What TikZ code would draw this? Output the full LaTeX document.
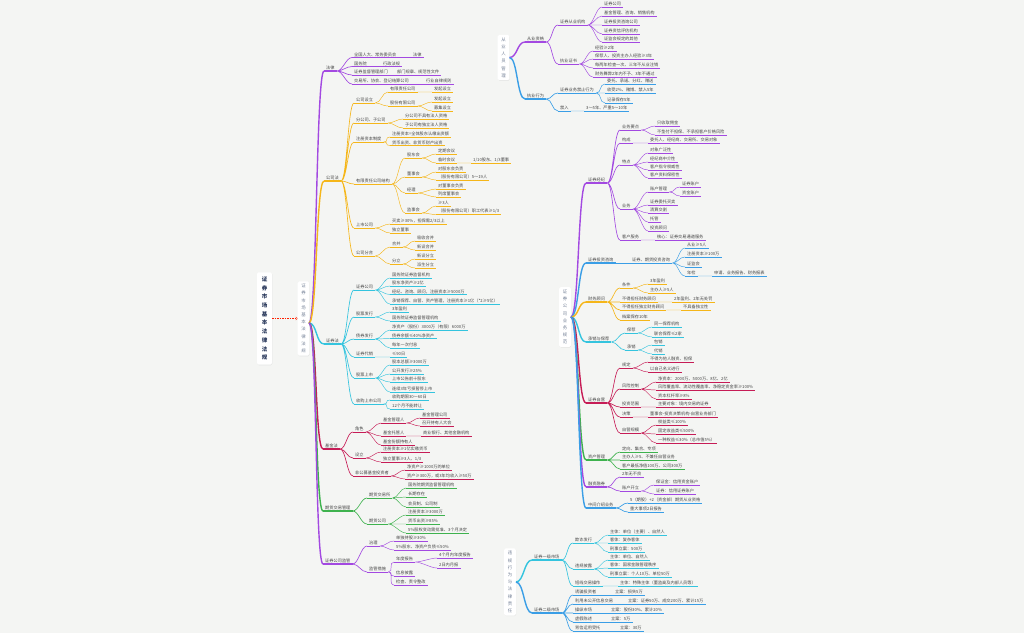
\documentclass[tikz,border=0pt]{standalone}
\usepackage{fontspec}
\setmainfont{Noto Sans CJK SC}
\usetikzlibrary{shadows}

\definecolor{cPu}{RGB}{163,73,225}
\definecolor{cYe}{RGB}{245,182,25}
\definecolor{cCy}{RGB}{52,196,222}
\definecolor{cCr}{RGB}{198,28,86}
\definecolor{cGr}{RGB}{62,178,78}
\definecolor{cBl}{RGB}{58,158,230}
\definecolor{txt}{RGB}{70,70,70}
\definecolor{bg}{RGB}{244,245,243}
\definecolor{navy}{RGB}{40,55,90}
\definecolor{boxtxt}{RGB}{115,128,150}

\newcommand{\leaffont}{\fontsize{4.2}{5}\selectfont}

\tikzset{
  base/.style={anchor=south west, inner xsep=2pt, inner ysep=.7pt, font=\leaffont, text=txt},
  l1/.style={base, append after command={(\tikzlastnode.south west) edge[draw=#1, line width=1.2pt] (\tikzlastnode.south east)}},
  l2/.style={base, append after command={(\tikzlastnode.south west) edge[draw=#1, line width=.65pt] (\tikzlastnode.south east)}},
  l3/.style={base, append after command={(\tikzlastnode.south west) edge[draw=#1, line width=.45pt] (\tikzlastnode.south east)}},
  t1/.style={line width=1.4pt},
  t2/.style={line width=.65pt},
  t3/.style={line width=.45pt},
  cv/.style={to path={.. controls +(#1,0) and +(-#1,0) .. (\tikztotarget)}},
  cv/.default=6,
  rootbox/.style={fill=white, rounded corners=1.5pt, align=center, inner xsep=4.6pt, inner ysep=4.5pt,
    font=\fontsize{5.5}{8.7}\selectfont\bfseries, text=navy,
    drop shadow={shadow xshift=.4pt, shadow yshift=-.6pt, opacity=.12}},
  topbox/.style={fill=white, rounded corners=1.5pt, align=center, inner xsep=3.6pt, inner ysep=2.8pt,
    font=\fontsize{4.4}{7.2}\selectfont, text=boxtxt,
    drop shadow={shadow xshift=.4pt, shadow yshift=-.6pt, opacity=.12}}
}

\begin{document}
\begin{tikzpicture}[x=1pt,y=-1pt]
    \fill[bg] (0,0) rectangle (1024,633);
    \useasboundingbox (0,0) rectangle (1024,633);

    % Thèmes
    \node[rootbox] (rt) at (264.5,318.5) {证\\券\\市\\场\\基\\本\\法\\律\\法\\规};
    \node[topbox] (ct) at (303.5,318.5) {证\\券\\市\\场\\基\\本\\法\\律\\法\\规};
    \draw[red!75!orange, line width=.4pt, dash pattern=on 1.5pt off 1pt, ->] (rt) -- (ct);
    \coordinate (ctO) at (309,323);
    \node[topbox] (ry) at (503.5,57.5) {从\\业\\人\\员\\管\\理};
    \node[topbox] (yw) at (565,317) {证\\券\\公\\司\\业\\务\\规\\范};
    \node[topbox] (wg) at (510,582) {违\\规\\行\\为\\与\\法\\律\\责\\任};

    % 法律
    \node[l1=cPu] (fa) at (324,71) {法律};
    \node[l2=cPu] (fa1) at (352,57.5) {全国人大、常务委员会};
    \node[l3=cPu] (fa1a) at (411,57.5) {法律};
    \node[l2=cPu] (fa2) at (352,66.5) {国务院};
    \node[l3=cPu] (fa2a) at (381,66.5) {行政法规};
    \node[l2=cPu] (fa3) at (352,75) {证券监督管理部门};
    \node[l3=cPu] (fa3a) at (395,75) {部门规章、规范性文件};
    \node[l2=cPu] (fa4) at (352,84) {交易所、协会、登记结算公司};
    \node[l3=cPu] (fa4a) at (424,84) {行业自律规则};
    \draw[cPu,t1] (ctO) to[cv=8] (fa.south west);
    \draw[cPu,t2] (fa.south east) to[cv] (fa1.south west) (fa.south east) to[cv] (fa2.south west)
        (fa.south east) to[cv] (fa3.south west) (fa.south east) to[cv] (fa4.south west);
    \draw[cPu,t3] (fa1.south east) -- (fa1a.south west) (fa2.south east) -- (fa2a.south west)
        (fa3.south east) -- (fa3a.south west) (fa4.south east) -- (fa4a.south west);

    % 公司法
    \node[l1=cYe] (gs) at (324,181) {公司法};
    \node[l2=cYe] (gs1) at (354,103) {公司设立};
    \node[l3=cYe] (gs11) at (388,92) {有限责任公司};
    \node[l3=cYe] (gs111) at (432,92) {发起设立};
    \node[l3=cYe] (gs12) at (388,106) {股份有限公司};
    \node[l3=cYe] (gs121) at (432,102) {发起设立};
    \node[l3=cYe] (gs122) at (432,111) {募集设立};
    \node[l2=cYe] (gs2) at (354,123) {分公司、子公司};
    \node[l3=cYe] (gs21) at (403,119) {分公司不具有法人资格};
    \node[l3=cYe] (gs22) at (403,128) {子公司有独立法人资格};
    \node[l2=cYe] (gs3) at (354,142) {注册资本制度};
    \node[l3=cYe] (gs31) at (390,137) {注册资本=全体股东认缴出资额};
    \node[l3=cYe] (gs32) at (390,145.5) {货币出资、非货币财产出资};
    \node[l2=cYe] (gs4) at (354,184) {有限责任公司结构};
    \node[l3=cYe] (gs41) at (405,158) {股东会};
    \node[l3=cYe] (gs411) at (436,154) {定期会议};
    \node[l3=cYe] (gs412) at (436,163) {临时会议};
    \node[l3=cYe] (gs4121) at (471,163) {1/10股东、1/3董事};
    \node[l3=cYe] (gs42) at (405,177) {董事会};
    \node[l3=cYe] (gs421) at (436,172) {对股东会负责};
    \node[l3=cYe] (gs422) at (436,180) {（股份有限公司）5～19人};
    \node[l3=cYe] (gs43) at (405,193) {经理};
    \node[l3=cYe] (gs431) at (436,189) {对董事会负责};
    \node[l3=cYe] (gs432) at (436,197) {列席董事会};
    \node[l3=cYe] (gs44) at (405,213) {监事会};
    \node[l3=cYe] (gs441) at (436,206) {≥3人};
    \node[l3=cYe] (gs442) at (436,214.5) {（股份有限公司）职工代表≥1/3};
    \node[l2=cYe] (gs5) at (354,228) {上市公司};
    \node[l3=cYe] (gs51) at (390,224) {买卖≥30\%，担保需2/3以上};
    \node[l3=cYe] (gs52) at (390,233) {独立董事};
    \node[l2=cYe] (gs6) at (354,256) {公司分合};
    \node[l3=cYe] (gs61) at (390,247) {合并};
    \node[l3=cYe] (gs611) at (415,241) {吸收合并};
    \node[l3=cYe] (gs612) at (415,250) {新设合并};
    \node[l3=cYe] (gs62) at (390,264) {分立};
    \node[l3=cYe] (gs621) at (415,259) {新设分立};
    \node[l3=cYe] (gs622) at (415,268) {派生分立};
    \draw[cYe,t1] (ctO) to[cv=8] (gs.south west);
    \draw[cYe,t2] (gs.south east) to[cv] (gs1.south west) (gs.south east) to[cv] (gs2.south west)
        (gs.south east) to[cv] (gs3.south west) (gs.south east) to[cv] (gs4.south west)
        (gs.south east) to[cv] (gs5.south west) (gs.south east) to[cv] (gs6.south west);
    \draw[cYe,t3] (gs1.south east) to[cv] (gs11.south west) (gs1.south east) to[cv] (gs12.south west)
        (gs11.south east) -- (gs111.south west)
        (gs12.south east) to[cv] (gs121.south west) (gs12.south east) to[cv] (gs122.south west)
        (gs2.south east) to[cv] (gs21.south west) (gs2.south east) to[cv] (gs22.south west)
        (gs3.south east) to[cv] (gs31.south west) (gs3.south east) to[cv] (gs32.south west)
        (gs4.south east) to[cv] (gs41.south west) (gs4.south east) to[cv] (gs42.south west)
        (gs4.south east) to[cv] (gs43.south west) (gs4.south east) to[cv] (gs44.south west)
        (gs41.south east) to[cv] (gs411.south west) (gs41.south east) to[cv] (gs412.south west)
        (gs412.south east) -- (gs4121.south west)
        (gs42.south east) to[cv] (gs421.south west) (gs42.south east) to[cv] (gs422.south west)
        (gs43.south east) to[cv] (gs431.south west) (gs43.south east) to[cv] (gs432.south west)
        (gs44.south east) to[cv] (gs441.south west) (gs44.south east) to[cv] (gs442.south west)
        (gs5.south east) to[cv] (gs51.south west) (gs5.south east) to[cv] (gs52.south west)
        (gs6.south east) to[cv] (gs61.south west) (gs6.south east) to[cv] (gs62.south west)
        (gs61.south east) to[cv] (gs611.south west) (gs61.south east) to[cv] (gs612.south west)
        (gs62.south east) to[cv] (gs621.south west) (gs62.south east) to[cv] (gs622.south west);

    % 证券法
    \node[l1=cCy] (zq) at (324,344) {证券法};
    \node[l2=cCy] (zq1) at (354,290) {证券公司};
    \node[l3=cCy] (zq11) at (390,278) {国务院证券监督机构};
    \node[l3=cCy] (zq12) at (390,286) {股东净资产≥2亿};
    \node[l3=cCy] (zq13) at (390,294.5) {经纪、咨询、顾问，注册资本≥5000万};
    \node[l3=cCy] (zq14) at (390,304) {承销保荐、自营、资产管理，注册资本≥1亿（*2≥5亿）};
    \node[l2=cCy] (zq2) at (354,317) {股票发行};
    \node[l3=cCy] (zq21) at (390,312) {3年盈利};
    \node[l3=cCy] (zq22) at (390,321) {国务院证券监督管理机构};
    \node[l2=cCy] (zq3) at (354,339) {债券发行};
    \node[l3=cCy] (zq31) at (390,330) {净资产（股份）3000万（有限）6000万};
    \node[l3=cCy] (zq32) at (390,338.5) {债券余额≤40\%净资产};
    \node[l3=cCy] (zq33) at (390,348) {每年一次付息};
    \node[l2=cCy] (zq4) at (354,357) {证券代销};
    \node[l3=cCy] (zq41) at (390,357) {≤90日};
    \node[l2=cCy] (zq5) at (354,378) {股票上市};
    \node[l3=cCy] (zq51) at (390,365) {股本总额≥3000万};
    \node[l3=cCy] (zq52) at (390,374) {公开发行≥25\%};
    \node[l3=cCy] (zq53) at (390,382) {上市公告前十股东};
    \node[l3=cCy] (zq54) at (390,392) {连续3年亏损暂停上市};
    \node[l2=cCy] (zq6) at (354,404) {收购上市公司};
    \node[l3=cCy] (zq61) at (390,400) {收购期限30～60日};
    \node[l3=cCy] (zq62) at (390,409) {12个月不能转让};
    \draw[cCy,t1] (ctO) to[cv=8] (zq.south west);
    \draw[cCy,t2] (zq.south east) to[cv] (zq1.south west) (zq.south east) to[cv] (zq2.south west)
        (zq.south east) to[cv] (zq3.south west) (zq.south east) to[cv] (zq4.south west)
        (zq.south east) to[cv] (zq5.south west) (zq.south east) to[cv] (zq6.south west);
    \draw[cCy,t3] (zq1.south east) to[cv] (zq11.south west) (zq1.south east) to[cv] (zq12.south west)
        (zq1.south east) to[cv] (zq13.south west) (zq1.south east) to[cv] (zq14.south west)
        (zq2.south east) to[cv] (zq21.south west) (zq2.south east) to[cv] (zq22.south west)
        (zq3.south east) to[cv] (zq31.south west) (zq3.south east) to[cv] (zq32.south west)
        (zq3.south east) to[cv] (zq33.south west) (zq4.south east) -- (zq41.south west)
        (zq5.south east) to[cv] (zq51.south west) (zq5.south east) to[cv] (zq52.south west)
        (zq5.south east) to[cv] (zq53.south west) (zq5.south east) to[cv] (zq54.south west)
        (zq6.south east) to[cv] (zq61.south west) (zq6.south east) to[cv] (zq62.south west);

    % 基金法
    \node[l1=cCr] (jj) at (323,449) {基金法};
    \node[l2=cCr] (jj1) at (353,432) {角色};
    \node[l3=cCr] (jj11) at (381,423) {基金管理人};
    \node[l3=cCr] (jj111) at (420,418) {基金管理公司};
    \node[l3=cCr] (jj112) at (420,426) {召开持有人大会};
    \node[l3=cCr] (jj12) at (381,436) {基金托管人};
    \node[l3=cCr] (jj121) at (421,436) {商业银行、其他金融机构};
    \node[l3=cCr] (jj13) at (381,445) {基金份额持有人};
    \node[l2=cCr] (jj2) at (353,458) {设立};
    \node[l3=cCr] (jj21) at (381,452) {注册资本≥1亿实缴货币};
    \node[l3=cCr] (jj22) at (381,462) {独立董事≥3人、1/3};
    \node[l2=cCr] (jj3) at (353,476) {非公募基金投资者};
    \node[l3=cCr] (jj31) at (405,470) {净资产≥1000万的单位};
    \node[l3=cCr] (jj32) at (405,479) {资产≥300万，或3年均收入≥50万};
    \draw[cCr,t1] (ctO) to[cv=8] (jj.south west);
    \draw[cCr,t2] (jj.south east) to[cv] (jj1.south west) (jj.south east) to[cv] (jj2.south west)
        (jj.south east) to[cv] (jj3.south west);
    \draw[cCr,t3] (jj1.south east) to[cv] (jj11.south west) (jj1.south east) to[cv] (jj12.south west)
        (jj1.south east) to[cv] (jj13.south west)
        (jj11.south east) to[cv] (jj111.south west) (jj11.south east) to[cv] (jj112.south west)
        (jj12.south east) -- (jj121.south west)
        (jj2.south east) to[cv] (jj21.south west) (jj2.south east) to[cv] (jj22.south west)
        (jj3.south east) to[cv] (jj31.south west) (jj3.south east) to[cv] (jj32.south west);

    % 期货交易管理
    \node[l1=cGr] (qh) at (323,511) {期货交易管理};
    \node[l2=cGr] (qh1) at (367,498) {期货交易所};
    \node[l3=cGr] (qh11) at (406,488) {国务院期货监督管理机构};
    \node[l3=cGr] (qh12) at (406,497) {长期存在};
    \node[l3=cGr] (qh13) at (406,507) {会员制、公司制};
    \node[l2=cGr] (qh2) at (367,524) {期货公司};
    \node[l3=cGr] (qh21) at (406,515) {注册资本≥3000万};
    \node[l3=cGr] (qh22) at (406,524) {货币出资≥85\%};
    \node[l3=cGr] (qh23) at (406,533) {5\%股权变动需批准、3个月决定};
    \draw[cGr,t1] (ctO) to[cv=8] (qh.south west);
    \draw[cGr,t2] (qh.south east) to[cv] (qh1.south west) (qh.south east) to[cv] (qh2.south west);
    \draw[cGr,t3] (qh1.south east) to[cv] (qh11.south west) (qh1.south east) to[cv] (qh12.south west)
        (qh1.south east) to[cv] (qh13.south west)
        (qh2.south east) to[cv] (qh21.south west) (qh2.south east) to[cv] (qh22.south west)
        (qh2.south east) to[cv] (qh23.south west);

    % 证券公司监管
    \node[l1=cPu] (jg) at (323,564) {证券公司监管};
    \node[l2=cPu] (jg1) at (367,546) {治理};
    \node[l3=cPu] (jg11) at (394,541) {单独持股≥30\%};
    \node[l3=cPu] (jg12) at (394,550) {5\%股东、净资产负债≤50\%};
    \node[l2=cPu] (jg2) at (367,572) {监管措施};
    \node[l3=cPu] (jg21) at (394,562) {年度报告};
    \node[l3=cPu] (jg211) at (437,558) {4个月内年度报告};
    \node[l3=cPu] (jg212) at (437,568) {2日内月报};
    \node[l3=cPu] (jg22) at (394,576) {信息披露};
    \node[l3=cPu] (jg23) at (394,585) {检查、责令整改};
    \draw[cPu,t1] (ctO) to[cv=8] (jg.south west);
    \draw[cPu,t2] (jg.south east) to[cv] (jg1.south west) (jg.south east) to[cv] (jg2.south west);
    \draw[cPu,t3] (jg1.south east) to[cv] (jg11.south west) (jg1.south east) to[cv] (jg12.south west)
        (jg2.south east) to[cv] (jg21.south west) (jg2.south east) to[cv] (jg22.south west)
        (jg2.south east) to[cv] (jg23.south west)
        (jg21.south east) to[cv] (jg211.south west) (jg21.south east) to[cv] (jg212.south west);

    % 从业人员管理
    \node[l1=cPu] (cy) at (525,42) {从业资格};
    \node[l2=cPu] (cy1) at (558,25) {证券从业机构};
    \node[l3=cPu] (cy11) at (602,7) {证券公司};
    \node[l3=cPu] (cy12) at (602,16) {基金管理、咨询、销售机构};
    \node[l3=cPu] (cy13) at (602,25) {证券投资咨询公司};
    \node[l3=cPu] (cy14) at (602,34) {证券资信评估机构};
    \node[l3=cPu] (cy15) at (602,42) {证监会规定的其他};
    \node[l2=cPu] (cy2) at (558,64) {执业证书};
    \node[l3=cPu] (cy21) at (593,51) {经验≥2年};
    \node[l3=cPu] (cy22) at (593,59) {保荐人、投资主办人经验≥3年};
    \node[l3=cPu] (cy23) at (593,68) {每两年检查一次、三年不从业注销};
    \node[l3=cPu] (cy24) at (593,77) {财务舞弊2年内不予、3年不通过};
    \node[l1=cBl] (zy) at (525,99) {执业行为};
    \node[l2=cBl] (zy1) at (558,93) {证券业务禁止行为};
    \node[l3=cBl] (zy11) at (605,84) {委托、承诺、分红、赠送};
    \node[l3=cBl] (zy12) at (605,93) {收受2\%、赌博、禁入5年};
    \node[l3=cBl] (zy13) at (605,103) {记录保存5年};
    \node[l2=cBl] (zy2) at (558,111) {禁入};
    \node[l3=cBl] (zy21) at (584,111) {3～5年、严重5～10年};
    \draw[cPu,t1] (ry.east) to[cv=8] (cy.south west);
    \draw[cBl,t1] (ry.east) to[cv=8] (zy.south west);
    \draw[cPu,t2] (cy.south east) to[cv] (cy1.south west) (cy.south east) to[cv] (cy2.south west);
    \draw[cPu,t3] (cy1.south east) to[cv] (cy11.south west) (cy1.south east) to[cv] (cy12.south west)
        (cy1.south east) to[cv] (cy13.south west) (cy1.south east) to[cv] (cy14.south west)
        (cy1.south east) to[cv] (cy15.south west)
        (cy2.south east) to[cv] (cy21.south west) (cy2.south east) to[cv] (cy22.south west)
        (cy2.south east) to[cv] (cy23.south west) (cy2.south east) to[cv] (cy24.south west);
    \draw[cBl,t2] (zy.south east) to[cv] (zy1.south west) (zy.south east) to[cv] (zy2.south west);
    \draw[cBl,t3] (zy1.south east) to[cv] (zy11.south west) (zy1.south east) to[cv] (zy12.south west)
        (zy1.south east) to[cv] (zy13.south west) (zy2.south east) -- (zy21.south west);

    % 证券公司业务规范
    \node[l1=cPu] (jy) at (586,183) {证券经纪};
    \node[l2=cPu] (jy1) at (620,130) {业务要点};
    \node[l3=cPu] (jy11) at (655,126) {只收取佣金};
    \node[l3=cPu] (jy12) at (655,135) {不垫付不担保、不承担客户价格风险};
    \node[l2=cPu] (jy2) at (620,143) {构成};
    \node[l3=cPu] (jy21) at (648,143) {委托人、经纪商、交易所、交易对象};
    \node[l2=cPu] (jy3) at (620,165) {特点};
    \node[l3=cPu] (jy31) at (648,153) {对象广泛性};
    \node[l3=cPu] (jy32) at (648,162) {经纪商中介性};
    \node[l3=cPu] (jy33) at (648,170) {客户指令权威性};
    \node[l3=cPu] (jy34) at (648,178) {客户资料保密性};
    \node[l2=cPu] (jy4) at (620,209) {业务};
    \node[l3=cPu] (jy41) at (648,192) {账户管理};
    \node[l3=cPu] (jy411) at (680,187) {证券账户};
    \node[l3=cPu] (jy412) at (680,196) {资金账户};
    \node[l3=cPu] (jy42) at (648,205) {证券委托买卖};
    \node[l3=cPu] (jy43) at (648,213) {清算交割};
    \node[l3=cPu] (jy44) at (648,222) {托管};
    \node[l3=cPu] (jy45) at (648,231) {投资顾问};
    \node[l2=cPu] (jy5) at (620,240) {客户服务};
    \node[l3=cPu] (jy51) at (655,240) {核心：证券交易通道服务};
    \draw[cPu,t1] (yw.east) to[cv=8] (jy.south west);
    \draw[cPu,t2] (jy.south east) to[cv] (jy1.south west) (jy.south east) to[cv] (jy2.south west)
        (jy.south east) to[cv] (jy3.south west) (jy.south east) to[cv] (jy4.south west)
        (jy.south east) to[cv] (jy5.south west);
    \draw[cPu,t3] (jy1.south east) to[cv] (jy11.south west) (jy1.south east) to[cv] (jy12.south west)
        (jy2.south east) -- (jy21.south west)
        (jy3.south east) to[cv] (jy31.south west) (jy3.south east) to[cv] (jy32.south west)
        (jy3.south east) to[cv] (jy33.south west) (jy3.south east) to[cv] (jy34.south west)
        (jy4.south east) to[cv] (jy41.south west) (jy4.south east) to[cv] (jy42.south west)
        (jy4.south east) to[cv] (jy43.south west) (jy4.south east) to[cv] (jy44.south west)
        (jy4.south east) to[cv] (jy45.south west)
        (jy41.south east) to[cv] (jy411.south west) (jy41.south east) to[cv] (jy412.south west)
        (jy5.south east) -- (jy51.south west);

    \node[l1=cBl] (zx) at (586,263) {证券投资咨询};
    \node[l2=cBl] (zx1) at (630,263) {证券、期货投资咨询};
    \node[l3=cBl] (zx11) at (685,248) {从业≥5人};
    \node[l3=cBl] (zx12) at (685,257) {注册资本≥100万};
    \node[l3=cBl] (zx13) at (685,267) {证监会};
    \node[l3=cBl] (zx14) at (685,276) {年检};
    \node[l3=cBl] (zx141) at (712,276) {申请、业务报告、财务报表};
    \draw[cBl,t1] (yw.east) to[cv=8] (zx.south west);
    \draw[cBl,t2] (zx.south east) -- (zx1.south west);
    \draw[cBl,t3] (zx1.south east) to[cv] (zx11.south west) (zx1.south east) to[cv] (zx12.south west)
        (zx1.south east) to[cv] (zx13.south west) (zx1.south east) to[cv] (zx14.south west)
        (zx14.south east) -- (zx141.south west);

    \node[l1=cYe] (cw) at (586,302) {财务顾问};
    \node[l2=cYe] (cw1) at (620,288) {条件};
    \node[l3=cYe] (cw11) at (648,284) {3年盈利};
    \node[l3=cYe] (cw12) at (648,293) {主办人≥5人};
    \node[l2=cYe] (cw2) at (620,302) {不得担任财务顾问};
    \node[l3=cYe] (cw21) at (672,302) {2年盈利、2年无处罚};
    \node[l2=cYe] (cw3) at (620,310) {不得担任独立财务顾问};
    \node[l3=cYe] (cw31) at (681,310) {不具备独立性};
    \node[l2=cYe] (cw4) at (620,320) {档案保存10年};
    \draw[cYe,t1] (yw.east) to[cv=8] (cw.south west);
    \draw[cYe,t2] (cw.south east) to[cv] (cw1.south west) (cw.south east) -- (cw2.south west)
        (cw.south east) to[cv] (cw3.south west) (cw.south east) to[cv] (cw4.south west);
    \draw[cYe,t3] (cw1.south east) to[cv] (cw11.south west) (cw1.south east) to[cv] (cw12.south west)
        (cw2.south east) -- (cw21.south west) (cw3.south east) -- (cw31.south west);

    \node[l1=cCy] (cb) at (586,342) {承销与保荐};
    \node[l2=cCy] (cb1) at (625,333) {保荐};
    \node[l3=cCy] (cb11) at (652,327) {同一保荐机构};
    \node[l3=cCy] (cb12) at (652,337) {联合保荐≤2家};
    \node[l2=cCy] (cb2) at (625,350) {承销};
    \node[l3=cCy] (cb21) at (652,345) {包销};
    \node[l3=cCy] (cb22) at (652,354) {代销};
    \draw[cCy,t1] (yw.east) to[cv=8] (cb.south west);
    \draw[cCy,t2] (cb.south east) to[cv] (cb1.south west) (cb.south east) to[cv] (cb2.south west);
    \draw[cCy,t3] (cb1.south east) to[cv] (cb11.south west) (cb1.south east) to[cv] (cb12.south west)
        (cb2.south east) to[cv] (cb21.south west) (cb2.south east) to[cv] (cb22.south west);

    \node[l1=cCr] (zyy) at (586,403) {证券自营};
    \node[l2=cCr] (zyy1) at (620,368) {规定};
    \node[l3=cCr] (zyy11) at (648,362) {不得为他人融资、担保};
    \node[l3=cCr] (zyy12) at (648,372) {以自己名义进行};
    \node[l2=cCr] (zyy2) at (620,389) {风险控制};
    \node[l3=cCr] (zyy21) at (656,382) {净资本：2000万、5000万、8亿、2亿};
    \node[l3=cCr] (zyy22) at (656,390) {风险覆盖率、流动性覆盖率、净稳定资金率≥100\%};
    \node[l3=cCr] (zyy23) at (656,399) {资本杠杆率≥8\%};
    \node[l2=cCr] (zyy3) at (620,407) {投资范围};
    \node[l3=cCr] (zyy31) at (656,407) {主要对象：境内交易的证券};
    \node[l2=cCr] (zyy4) at (620,417) {决策};
    \node[l3=cCr] (zyy41) at (648,417) {董事会-投资决策机构-自营业务部门};
    \node[l2=cCr] (zyy5) at (620,433) {自营规模};
    \node[l3=cCr] (zyy51) at (656,425) {权益类≤100\%};
    \node[l3=cCr] (zyy52) at (656,434) {固定收益类≤500\%};
    \node[l3=cCr] (zyy53) at (656,443) {一种权益≤30\%（总市值5\%）};
    \draw[cCr,t1] (yw.east) to[cv=8] (zyy.south west);
    \draw[cCr,t2] (zyy.south east) to[cv] (zyy1.south west) (zyy.south east) to[cv] (zyy2.south west)
        (zyy.south east) to[cv] (zyy3.south west) (zyy.south east) to[cv] (zyy4.south west)
        (zyy.south east) to[cv] (zyy5.south west);
    \draw[cCr,t3] (zyy1.south east) to[cv] (zyy11.south west) (zyy1.south east) to[cv] (zyy12.south west)
        (zyy2.south east) to[cv] (zyy21.south west) (zyy2.south east) to[cv] (zyy22.south west)
        (zyy2.south east) to[cv] (zyy23.south west)
        (zyy3.south east) -- (zyy31.south west) (zyy4.south east) -- (zyy41.south west)
        (zyy5.south east) to[cv] (zyy51.south west) (zyy5.south east) to[cv] (zyy52.south west)
        (zyy5.south east) to[cv] (zyy53.south west);

    \node[l1=cGr] (zc) at (586,460) {资产管理};
    \node[l2=cGr] (zc1) at (620,452) {定向、集合、专项};
    \node[l2=cGr] (zc2) at (620,460) {主办人≥5、不兼任自营业务};
    \node[l2=cGr] (zc3) at (620,469) {客户最低净值100万、公司300万};
    \draw[cGr,t1] (yw.east) to[cv=8] (zc.south west);
    \draw[cGr,t2] (zc.south east) to[cv] (zc1.south west) (zc.south east) to[cv] (zc2.south west)
        (zc.south east) to[cv] (zc3.south west);

    \node[l1=cPu] (rz) at (586,487) {融资融券};
    \node[l2=cPu] (rz1) at (620,477) {2年无不良};
    \node[l2=cPu] (rz2) at (620,491) {账户开立};
    \node[l3=cPu] (rz21) at (654,485) {保证金：信用资金账户};
    \node[l3=cPu] (rz22) at (654,494) {证券：信用证券账户};
    \draw[cPu,t1] (yw.east) to[cv=8] (rz.south west);
    \draw[cPu,t2] (rz.south east) to[cv] (rz1.south west) (rz.south east) to[cv] (rz2.south west);
    \draw[cPu,t3] (rz2.south east) to[cv] (rz21.south west) (rz2.south east) to[cv] (rz22.south west);

    \node[l1=cBl] (zj) at (586,508) {中间介绍业务};
    \node[l2=cBl] (zj1) at (628,503) {5（期股）+2（资金部）期货从业资格};
    \node[l2=cBl] (zj2) at (628,512) {重大事项2日报告};
    \draw[cBl,t1] (yw.east) to[cv=8] (zj.south west);
    \draw[cBl,t2] (zj.south east) to[cv] (zj1.south west) (zj.south east) to[cv] (zj2.south west);

    % 违规行为与法律责任
    \node[l1=cCy] (yj) at (532,560) {证券一级市场};
    \node[l2=cCy] (yj1) at (573,543) {欺诈发行};
    \node[l3=cCy] (yj11) at (608,535) {主体：单位（主要）、自然人};
    \node[l3=cCy] (yj12) at (608,543) {客体：复杂客体};
    \node[l3=cCy] (yj13) at (608,552) {刑事立案：500万};
    \node[l2=cCy] (yj2) at (573,569) {违规披露};
    \node[l3=cCy] (yj21) at (608,560) {主体：单位、自然人};
    \node[l3=cCy] (yj22) at (608,568) {客体：国家金融管理秩序};
    \node[l3=cCy] (yj23) at (608,577) {刑事立案：个人10万、单位50万};
    \node[l2=cCy] (yj3) at (573,586) {短线交易操作};
    \node[l3=cCy] (yj31) at (618,586) {主体：特殊主体（董监高及内部人员等）};
    \node[l1=cBl] (ej) at (532,613) {证券二级市场};
    \node[l2=cBl] (ej1) at (573,595) {诱骗投资者};
    \node[l3=cBl] (ej11) at (613,595) {立案：损失5万};
    \node[l2=cBl] (ej2) at (573,604) {利用未公开信息交易};
    \node[l3=cBl] (ej21) at (626,604) {立案：证券50万、成交200万、累计15万};
    \node[l2=cBl] (ej3) at (573,613) {操纵市场};
    \node[l3=cBl] (ej31) at (609,613) {立案：股份30\%、累计20\%};
    \node[l2=cBl] (ej4) at (573,622) {虚假陈述};
    \node[l3=cBl] (ej41) at (609,622) {立案：5万};
    \node[l2=cBl] (ej5) at (573,631) {背信运用受托};
    \node[l3=cBl] (ej51) at (618,631) {立案：30万};
    \draw[cCy,t1] (wg.east) to[cv=8] (yj.south west);
    \draw[cBl,t1] (wg.east) to[cv=8] (ej.south west);
    \draw[cCy,t2] (yj.south east) to[cv] (yj1.south west) (yj.south east) to[cv] (yj2.south west)
        (yj.south east) to[cv] (yj3.south west);
    \draw[cCy,t3] (yj1.south east) to[cv] (yj11.south west) (yj1.south east) to[cv] (yj12.south west)
        (yj1.south east) to[cv] (yj13.south west)
        (yj2.south east) to[cv] (yj21.south west) (yj2.south east) to[cv] (yj22.south west)
        (yj2.south east) to[cv] (yj23.south west) (yj3.south east) -- (yj31.south west);
    \draw[cBl,t2] (ej.south east) to[cv] (ej1.south west) (ej.south east) to[cv] (ej2.south west)
        (ej.south east) -- (ej3.south west) (ej.south east) to[cv] (ej4.south west)
        (ej.south east) to[cv] (ej5.south west);
    \draw[cBl,t3] (ej1.south east) -- (ej11.south west) (ej2.south east) -- (ej21.south west)
        (ej3.south east) -- (ej31.south west) (ej4.south east) -- (ej41.south west)
        (ej5.south east) -- (ej51.south west);
\end{tikzpicture}
\end{document}
